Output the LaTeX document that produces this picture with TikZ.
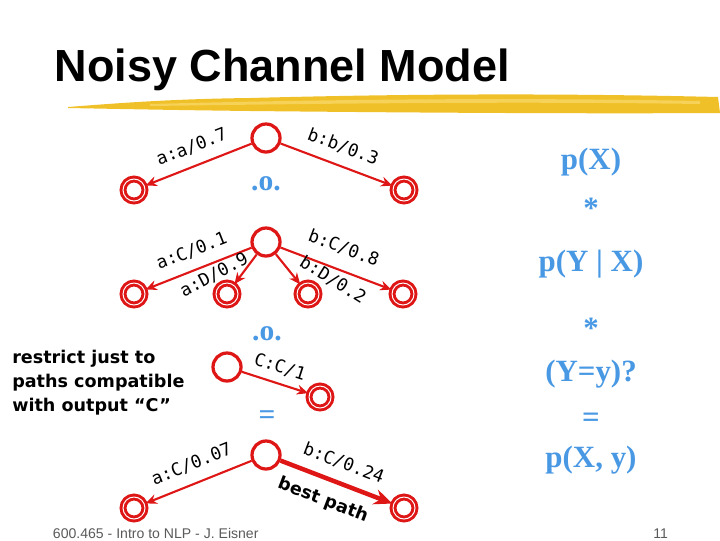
\documentclass[tikz,border=0pt]{standalone}
\usepackage{fontspec}
\setmainfont{Liberation Serif}
\newfontfamily\titlefont{Liberation Sans}
\newfontfamily\labelfont{DejaVu Sans Mono}
\newfontfamily\notefont{DejaVu Sans}
\usetikzlibrary{arrows.meta, positioning}
\definecolor{statered}{RGB}{222,22,22}
\definecolor{opblue}{RGB}{72,152,228}
\definecolor{swoosh}{RGB}{240,192,40}
\definecolor{swooshlight}{RGB}{250,222,120}
\definecolor{footgray}{RGB}{90,90,90}

\begin{document}
\begin{tikzpicture}[
    x=0.025cm, y=-0.025cm, % one unit is one pixel of the slide
    state/.style={circle, draw=statered, line width=2.3pt, minimum size=0.7cm, inner sep=0pt},
    final/.style={circle, draw=statered, line width=2.1pt, double=white, double distance=0.7pt, minimum size=0.55cm, inner sep=0pt},
    arc/.style={-{Stealth[length=8pt, width=7pt]}, draw=statered, line width=1.5pt}, % Arrow style
    bestarc/.style={-{Stealth[length=13pt, width=11pt]}, draw=statered, line width=3.2pt},
    arclabel/.style={font=\labelfont\fontsize{12.5}{14}\selectfont, inner sep=1.5pt},
    op/.style={text=opblue, font=\bfseries\fontsize{21}{24}\selectfont},
    formula/.style={text=opblue, font=\bfseries\fontsize{22}{26}\selectfont},
    note/.style={font=\notefont\bfseries\fontsize{12.5}{17}\selectfont, align=left, inner sep=0pt}
]
    \useasboundingbox (0,0) rectangle (720,540);

    % Title and swoosh
    \fill[swoosh] (68,107) .. controls (120,103) and (170,99) .. (250,98)
        .. controls (400,94) and (550,93) .. (718,97) -- (720,113)
        .. controls (550,114) and (350,112) .. (250,111)
        .. controls (170,110) and (120,109) .. (68,108) -- cycle;
    \fill[swooshlight, opacity=0.6] (150,104) .. controls (300,100) and (500,97) .. (700,101)
        -- (700,104) .. controls (500,101) and (300,104) .. (150,106) -- cycle;
    \node (title) [anchor=base west, font=\titlefont\bfseries\fontsize{32}{36}\selectfont] at (50,81) {Noisy Channel Model};

    % Source machine
    \node (top) [state] at (266,138) {};
    \node (topa) [final] at (134,190) {};
    \node (topb) [final] at (404,190) {};
    \draw[arc] (top) -- node[arclabel, sloped, above=6pt] {a:a/0.7} (topa);
    \draw[arc] (top) -- node[arclabel, sloped, above=6pt] {b:b/0.3} (topb);

    % Channel machine
    \node (mid) [state] at (266,242) {};
    \node (midaC) [final] at (134,294) {};
    \node (midaD) [final] at (227,294) {};
    \node (midbD) [final] at (308,294) {};
    \node (midbC) [final] at (403,294) {};
    \draw[arc] (mid) -- node[arclabel, sloped, above=6pt] {a:C/0.1} (midaC);
    \draw[arc] (mid) -- (midaD);
    \draw[arc] (mid) -- (midbD);
    \draw[arc] (mid) -- node[arclabel, sloped, above=8pt] {b:C/0.8} (midbC);
    \node (laD) [arclabel, rotate=28] at (214,275) {a:D/0.9};
    \node (lbD) [arclabel, rotate=-32] at (333,280) {b:D/0.2};

    % Observation machine
    \node (obs) [state] at (227,367) {};
    \node (obsC) [final] at (320,397) {};
    \draw[arc] (obs) -- node[arclabel, sloped, above=4pt] {C:C/1} (obsC);

    % Result machine
    \node (bot) [state] at (266,455) {};
    \node (bota) [final] at (134,508) {};
    \node (botb) [final] at (404,508) {};
    \draw[arc] (bot) -- node[arclabel, sloped, above=6pt] {a:C/0.07} (bota);
    \draw[bestarc] (bot) -- node[arclabel, sloped, above=6pt] {b:C/0.24}
        node[note, sloped, below=8pt, pos=0.45] {best path} (botb);

    % Composition operators
    \node (comp1) [op] at (266,184) {.o.};
    \node (comp2) [op] at (267,334) {.o.};
    \node (eq) [op] at (267,418) {=};

    % Formula column
    \node (px) [formula] at (591,162) {p(X)};
    \node (times1) [formula] at (591,208) {*};
    \node (pyx) [formula] at (591,264) {p(Y | X)};
    \node (times2) [formula] at (591,328) {*};
    \node (ysel) [formula] at (591,374) {(Y=y)?};
    \node (eq2) [formula] at (591,420) {=};
    \node (pxy) [formula] at (591,460) {p(X, y)};

    % Side note
    \node (note) [note, anchor=north west] at (12,350) {restrict just to\\paths compatible\\with output “C”};

    % Footer
    \node (foot) [anchor=base west, text=footgray, font=\titlefont\fontsize{10}{12}\selectfont] at (48,538) {600.465 - Intro to NLP - J. Eisner};
    \node (page) [anchor=base east, text=footgray, font=\titlefont\fontsize{10}{12}\selectfont] at (673,538) {11};

\end{tikzpicture}
\end{document}
